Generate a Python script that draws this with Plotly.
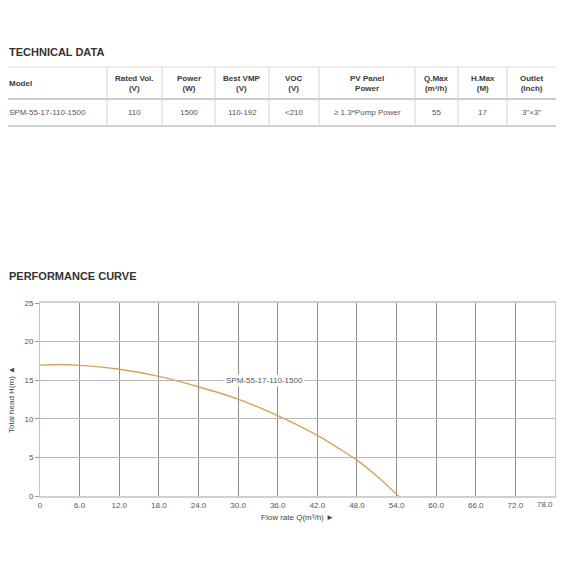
import plotly.graph_objects as go

# technical data table
headers = ['Model', 'Rated Vol.<br>(V)', 'Power<br>(W)', 'Best VMP<br>(V)', 'VOC<br>(V)',
           'PV Panel<br>Power', 'Q.Max<br>(m³/h)', 'H.Max<br>(M)', 'Outlet<br>(Inch)']
row_values = ['SPM-55-17-110-1500', '110', '1500', '110-192', '<210',
              '≥ 1.3*Pump Power', '55', '17', '3"×3"']

# performance curve (flow m3/h, head m)
flow = [0, 3, 6, 12, 18, 24, 30, 36, 42, 45, 48, 51, 54.3]
head = [16.95, 17.03, 16.92, 16.42, 15.5, 14.15, 12.55, 10.4, 7.85, 6.3, 4.65, 2.6, 0]

x_ticks = [0, 6, 12, 18, 24, 30, 36, 42, 48, 54, 60, 66, 72, 78]
x_ticktext = ['0'] + [f'{v:.1f}' for v in x_ticks[1:]]

FONT = 'Liberation Sans, Arial, sans-serif'
CURVE_COLOR = '#d9a25c'

W = 565
PL, PR, PT, PB = 40, 555, 303, 496   # plot area in pixels

def px(xp):
    return (xp - PL) / (PR - PL)

def py(yp):
    return (PB - yp) / (PB - PT)

fig = go.Figure()

fig.add_trace(go.Scatter(
    x=flow, y=head,
    mode='lines',
    line=dict(color=CURVE_COLOR, width=1.4, shape='spline', smoothing=0.8),
    name=row_values[0],
    showlegend=False,
))

fig.add_annotation(
    x=34, y=15, xref='x', yref='y',
    text=row_values[0], showarrow=False,
    font=dict(family=FONT, size=8, color='#555'),
    bgcolor='white', borderpad=1,
)

# last x label sits flush with the right edge in the original, so it is
# drawn as a right-anchored note instead of a centred tick label
fig.add_annotation(
    x=x_ticks[-1], y=py(504.5), xref='x', yref='paper',
    xanchor='right', yanchor='middle', showarrow=False,
    text=x_ticktext[-1],
    font=dict(family=FONT, size=8, color='#555'),
)
axis_ticktext = x_ticktext[:-1] + ['']

# section titles
for label, yp in [('TECHNICAL DATA', 52), ('PERFORMANCE CURVE', 276)]:
    fig.add_annotation(
        x=px(7), y=py(yp), xref='paper', yref='paper',
        xanchor='left', yanchor='middle', showarrow=False,
        text=f'<b>{label}</b>',
        font=dict(family=FONT, size=11, color='#333'),
    )

# table layout
col_edges = [8, 107, 162, 215, 269, 319, 415, 458, 507, 556]
row_top, row_mid, row_bot = 67, 99, 126

for i, (h, v) in enumerate(zip(headers, row_values)):
    if i == 0:
        xa, anchor = col_edges[0] - 1, 'left'
    else:
        xa, anchor = (col_edges[i] + col_edges[i + 1]) / 2, 'center'
    fig.add_annotation(
        x=px(xa), y=py((row_top + row_mid) / 2), xref='paper', yref='paper',
        xanchor=anchor, yanchor='middle', showarrow=False, align='center',
        text=f'<b>{h}</b>',
        font=dict(family=FONT, size=8, color='#3a3a3a'),
    )
    fig.add_annotation(
        x=px(xa), y=py((row_mid + row_bot) / 2), xref='paper', yref='paper',
        xanchor=anchor, yanchor='middle', showarrow=False,
        text=v,
        font=dict(family=FONT, size=8, color='#555'),
    )

shapes = [
    dict(type='line', xref='paper', yref='paper', x0=px(8), x1=px(556),
         y0=py(row_top), y1=py(row_top), line=dict(color='#e0e0e0', width=1)),
    dict(type='line', xref='paper', yref='paper', x0=px(8), x1=px(556),
         y0=py(row_mid), y1=py(row_mid), line=dict(color='#9a9a9a', width=1)),
    dict(type='line', xref='paper', yref='paper', x0=px(8), x1=px(556),
         y0=py(row_bot), y1=py(row_bot), line=dict(color='#d0d0d0', width=2)),
]
for xe in col_edges[1:-1]:
    shapes.append(dict(type='line', xref='paper', yref='paper', x0=px(xe), x1=px(xe),
                       y0=py(row_top), y1=py(row_bot), line=dict(color='#d4d4d4', width=1)))

fig.update_layout(
    width=W, height=W,
    margin=dict(l=PL, r=W - PR, t=PT, b=W - PB),
    paper_bgcolor='white', plot_bgcolor='white',
    font=dict(family=FONT, size=8, color='#555'),
    shapes=shapes,
    showlegend=False,
)

fig.update_xaxes(
    range=[0, 78], tickvals=x_ticks, ticktext=axis_ticktext,
    showgrid=True, gridcolor='#8c8c8c', gridwidth=1,
    showline=True, linecolor='#d0d0d0', linewidth=2, mirror=True,
    zeroline=False, ticks='',
    tickfont=dict(family=FONT, size=8, color='#555'),
    title=dict(text='Flow rate Q(m³/h) ►', font=dict(family=FONT, size=8, color='#444'),
               standoff=6),
)
fig.update_yaxes(
    range=[0, 25], dtick=5,
    showgrid=True, gridcolor='#b8b8b8', gridwidth=1,
    showline=True, linecolor='#c4c4c4', linewidth=1, mirror=True,
    zeroline=False, ticks='outside', ticklen=4, tickcolor='#999',
    tickfont=dict(family=FONT, size=8, color='#555'),
    title=dict(text='Total head H(m) ▲', font=dict(family=FONT, size=8, color='#444'),
               standoff=8),
)

# the default page has an 8px body margin and may scroll; drop both so the figure fills the window
page_css = ("document.body.style.margin='0';"
            "document.body.style.overflow='hidden';"
            "document.documentElement.style.overflow='hidden';")
fig.write_html('out.html', config={'displayModeBar': False}, post_script=page_css)
